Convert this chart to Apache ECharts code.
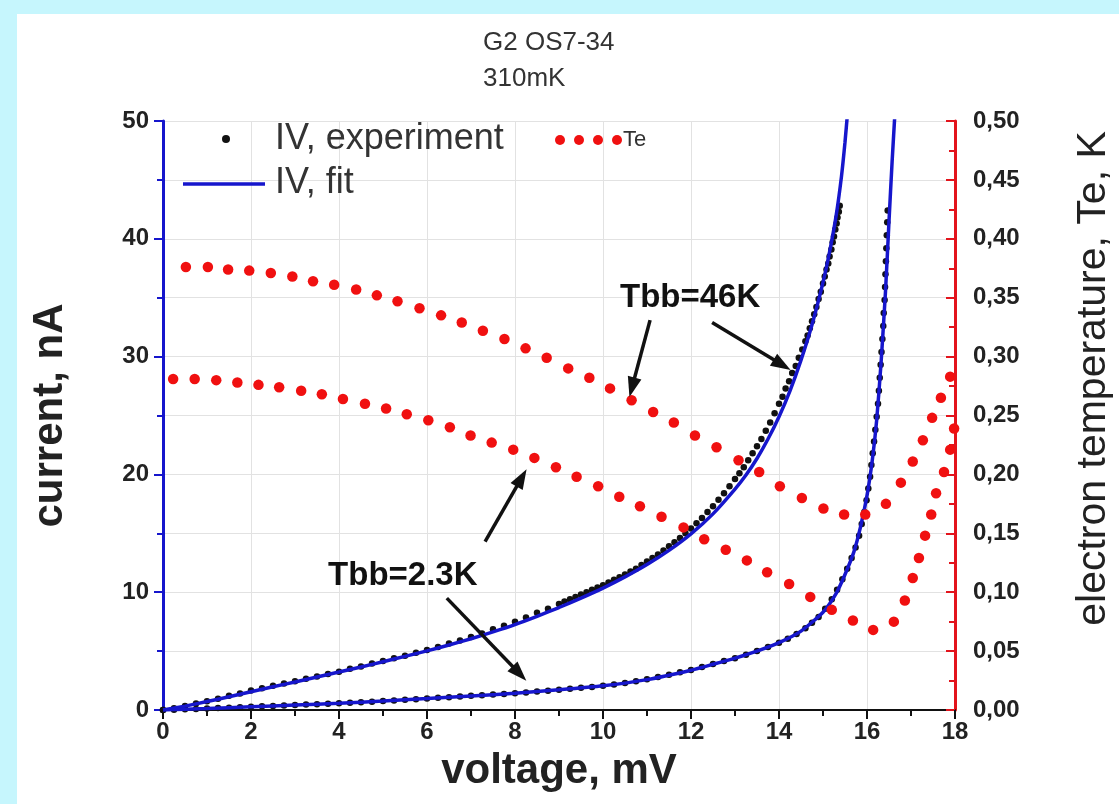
<!DOCTYPE html>
<html>
<head>
<meta charset="utf-8">
<script src="https://cdn.jsdelivr.net/npm/echarts@6/dist/echarts.min.js"></script>
<style>
  html, body { margin:0; padding:0; width:1119px; height:804px; background:#c6f6fd; overflow:hidden; }
  #panel { position:absolute; left:17px; top:14px; width:1102px; height:790px; background:#ffffff; }
  #chart { position:absolute; left:0; top:0; width:1119px; height:804px; }
</style>
</head>
<body>
<div id="panel"></div>
<div id="chart"></div>
<script>
// ---- data (voltage mV, value) ----
const te46K = [[0.52,0.376],[1.02,0.376],[1.48,0.374],[1.96,0.373],[2.45,0.371],[2.94,0.368],[3.41,0.364],[3.89,0.361],[4.39,0.357],[4.86,0.352],[5.33,0.347],[5.83,0.341],[6.32,0.335],[6.79,0.329],[7.27,0.322],[7.76,0.315],[8.24,0.307],[8.72,0.299],[9.21,0.290],[9.69,0.282],[10.16,0.273],[10.65,0.263],[11.14,0.253],[11.61,0.244],[12.09,0.233],[12.58,0.223],[13.08,0.212],[13.55,0.202],[14.02,0.190],[14.52,0.180],[15.01,0.171],[15.48,0.166],[15.96,0.166],[16.43,0.175],[16.77,0.193],[17.04,0.211],[17.27,0.229],[17.48,0.248],[17.68,0.265],[17.89,0.283]];
const te23K = [[0.23,0.281],[0.72,0.281],[1.21,0.280],[1.69,0.278],[2.17,0.276],[2.64,0.274],[3.14,0.271],[3.61,0.268],[4.09,0.264],[4.59,0.260],[5.07,0.256],[5.54,0.251],[6.03,0.246],[6.52,0.240],[6.99,0.233],[7.47,0.227],[7.96,0.221],[8.44,0.214],[8.93,0.206],[9.40,0.198],[9.89,0.190],[10.37,0.181],[10.84,0.173],[11.33,0.164],[11.83,0.155],[12.30,0.145],[12.79,0.136],[13.27,0.127],[13.73,0.117],[14.23,0.107],[14.71,0.096],[15.20,0.085],[15.68,0.076],[16.14,0.068],[16.61,0.075],[16.86,0.093],[17.04,0.112],[17.18,0.129],[17.32,0.148],[17.46,0.166],[17.57,0.184],[17.75,0.202],[17.89,0.221],[17.98,0.239]];
const iv46KExp = [[0,0],[0.25,0.15],[0.5,0.35],[0.75,0.55],[1,0.75],[1.25,0.95],[1.5,1.2],[1.75,1.4],[2,1.65],[2.25,1.85],[2.5,2.05],[2.75,2.25],[3,2.45],[3.25,2.65],[3.5,2.85],[3.75,3.05],[4,3.25],[4.25,3.5],[4.5,3.7],[4.75,3.95],[5,4.15],[5.25,4.4],[5.5,4.6],[5.75,4.85],[6,5.1],[6.25,5.35],[6.5,5.65],[6.75,5.9],[7,6.2],[7.25,6.5],[7.5,6.85],[7.75,7.15],[8,7.5],[8.25,7.85],[8.5,8.25],[8.75,8.6],[9,9.0],[9.125,9.2],[9.25,9.4],[9.375,9.6],[9.5,9.8],[9.625,10.0],[9.75,10.2],[9.875,10.4],[10,10.6],[10.125,10.82],[10.25,11.05],[10.375,11.27],[10.5,11.5],[10.625,11.75],[10.75,12.0],[10.875,12.3],[11,12.6],[11.125,12.9],[11.25,13.2],[11.375,13.55],[11.5,13.9],[11.625,14.25],[11.75,14.6],[11.875,15.0],[12,15.4],[12.125,15.85],[12.25,16.3],[12.375,16.8],[12.5,17.3],[12.625,17.85],[12.75,18.4],[12.875,19.0],[13,19.6],[13.1,20.1],[13.2,20.6],[13.3,21.2],[13.4,21.8],[13.5,22.4],[13.6,23.0],[13.7,23.7],[13.8,24.4],[13.9,25.2],[14,26.0],[14.08,26.6],[14.15,27.3],[14.23,27.9],[14.3,28.6],[14.38,29.2],[14.45,29.9],[14.53,30.6],[14.6,31.3],[14.65,31.8],[14.7,32.4],[14.75,33.0],[14.8,33.6],[14.85,34.2],[14.9,34.9],[14.95,35.5],[15,36.2],[15.04,36.8],[15.08,37.4],[15.12,37.9],[15.15,38.5],[15.19,39.1],[15.22,39.7],[15.25,40.2],[15.28,40.8],[15.31,41.3],[15.33,41.8],[15.36,42.3],[15.38,42.8]];
const iv46KFit = [[0,0],[0.5,0.33],[1,0.72],[1.5,1.12],[2,1.55],[2.5,1.97],[3,2.38],[3.5,2.8],[4,3.22],[4.5,3.65],[5,4.1],[5.5,4.55],[6,5.02],[6.5,5.52],[7,6.05],[7.5,6.63],[8,7.25],[8.5,7.95],[9,8.7],[9.5,9.5],[10,10.35],[10.5,11.3],[11,12.35],[11.5,13.55],[12,14.95],[12.5,16.65],[13,18.75],[13.25,19.95],[13.5,21.35],[13.75,23.0],[14,24.9],[14.25,27.1],[14.5,29.7],[14.75,32.7],[15,36.3],[15.15,38.9],[15.3,42.0],[15.42,45.3],[15.5,48.2],[15.56,50.8]];
const iv23KExp = [[0,0],[0.25,0.03],[0.5,0.06],[0.75,0.09],[1,0.12],[1.25,0.16],[1.5,0.2],[1.75,0.24],[2,0.28],[2.25,0.31],[2.5,0.35],[2.75,0.38],[3,0.42],[3.25,0.46],[3.5,0.49],[3.75,0.53],[4,0.57],[4.25,0.62],[4.5,0.66],[4.75,0.71],[5,0.76],[5.25,0.81],[5.5,0.87],[5.75,0.92],[6,0.98],[6.25,1.03],[6.5,1.09],[6.75,1.14],[7,1.2],[7.25,1.25],[7.5,1.31],[7.75,1.36],[8,1.42],[8.25,1.49],[8.5,1.56],[8.75,1.64],[9,1.72],[9.25,1.8],[9.5,1.88],[9.75,1.96],[10,2.05],[10.25,2.17],[10.5,2.3],[10.75,2.45],[11,2.6],[11.25,2.8],[11.5,3.0],[11.75,3.2],[12,3.4],[12.25,3.65],[12.5,3.9],[12.75,4.15],[13,4.4],[13.25,4.7],[13.5,5.0],[13.75,5.35],[14,5.7],[14.2,6.05],[14.4,6.45],[14.6,6.95],[14.75,7.4],[14.9,7.9],[15.05,8.6],[15.2,9.4],[15.32,10.2],[15.44,11.1],[15.55,12.0],[15.65,12.9],[15.74,13.8],[15.82,14.8],[15.88,15.8],[15.94,16.8],[15.99,17.8],[16.03,18.8],[16.07,19.8],[16.1,20.8],[16.13,21.8],[16.16,22.8],[16.19,23.8],[16.22,24.9],[16.25,26.0],[16.27,27.1],[16.29,28.2],[16.31,29.3],[16.33,30.4],[16.35,31.5],[16.37,32.6],[16.38,33.7],[16.4,34.8],[16.41,35.9],[16.42,37.0],[16.43,38.1],[16.44,39.2],[16.45,40.3],[16.46,41.4],[16.47,42.4]];
const iv23KFit = [[0,0],[1,0.12],[2,0.27],[3,0.42],[4,0.57],[5,0.76],[6,0.97],[7,1.19],[8,1.42],[9,1.71],[10,2.05],[11,2.58],[12,3.38],[12.5,3.88],[13,4.4],[13.5,5.0],[14,5.72],[14.5,6.7],[15,8.3],[15.3,9.9],[15.5,11.5],[15.7,13.4],[15.85,15.5],[16,18.2],[16.12,21.2],[16.22,24.6],[16.32,29.5],[16.42,35.5],[16.5,41.5],[16.57,46.5],[16.64,51]];

// annotation anchors in (mV, nA)
const labels = [
  { text: 'Tbb=46K', at: [11.98, 34.97] },
  { text: 'Tbb=2.3K', at: [5.45, 11.38] }
];
const arrows = [
  [[11.07, 33.1], [10.66, 27.4]],
  [[12.48, 32.9], [14.07, 29.3]],
  [[7.32, 14.3], [8.15, 19.7]],
  [[6.45, 9.5], [8.10, 3.1]]
];

const FONT = "'Liberation Sans', Arial, sans-serif";
const BLUE = '#1616cc';
const RED = '#e3141c';
const DOT_RED = '#f01010';
const TEXT = '#222222';

const chart = echarts.init(document.getElementById('chart'), null, { renderer: 'canvas' });

const option = {
  backgroundColor: 'transparent',
  animation: false,
  title: {
    text: 'G2 OS7-34\n310mK',
    left: 478, top: 20,
    textStyle: { fontFamily: FONT, fontSize: 26, fontWeight: 'normal', color: '#333', lineHeight: 36 }
  },
  grid: { left: 163, right: 164, top: 121, bottom: 94, outerBoundsMode: 'none', containLabel: false },
  xAxis: {
    type: 'value', min: 0, max: 18, interval: 2,
    axisLine: { lineStyle: { color: '#111', width: 2 } },
    axisTick: { show: true, length: 9, lineStyle: { color: '#111', width: 2 } },
    minorTick: { show: true, splitNumber: 2, length: 6, lineStyle: { color: '#111', width: 2 } },
    splitLine: { show: true, lineStyle: { color: '#e2e2e2', width: 1 } },
    axisLabel: { fontFamily: FONT, fontSize: 24, fontWeight: 'bold', color: TEXT, margin: 10 },
    name: 'voltage, mV', nameLocation: 'middle', nameGap: 40,
    nameTextStyle: { fontFamily: FONT, fontSize: 42, fontWeight: 'bold', color: TEXT }
  },
  yAxis: [
    {
      type: 'value', min: 0, max: 50, interval: 10, position: 'left',
      axisLine: { show: true, lineStyle: { color: BLUE, width: 3 } },
      axisTick: { show: true, length: 9, lineStyle: { color: BLUE, width: 2 } },
      minorTick: { show: true, splitNumber: 2, length: 6, lineStyle: { color: BLUE, width: 2 } },
      splitLine: { show: true, lineStyle: { color: '#e2e2e2', width: 1 } },
      minorSplitLine: { show: true, lineStyle: { color: '#e2e2e2', width: 1 } },
      axisLabel: { fontFamily: FONT, fontSize: 24, fontWeight: 'bold', color: TEXT, margin: 14 },
      name: 'current, nA', nameLocation: 'middle', nameGap: 92, nameRotate: 90,
      nameTextStyle: { fontFamily: FONT, fontSize: 42, fontWeight: 'bold', color: TEXT }
    },
    {
      type: 'value', min: 0, max: 0.5, interval: 0.05, position: 'right',
      axisLine: { show: true, lineStyle: { color: RED, width: 3 } },
      axisTick: { show: true, inside: true, length: 9, lineStyle: { color: RED, width: 2 } },
      minorTick: { show: true, splitNumber: 2, length: 6, lineStyle: { color: RED, width: 2 } },
      splitLine: { show: false },
      axisLabel: { fontFamily: FONT, fontSize: 24, fontWeight: 'bold', color: TEXT, margin: 18,
        formatter: v => v.toFixed(2).replace('.', ',') },
      name: 'electron temperature, Te, K', nameLocation: 'middle', nameGap: 118, nameRotate: 90,
      nameTextStyle: { fontFamily: FONT, fontSize: 41, fontWeight: 'normal', color: TEXT, padding: [0, 0, 0, 74] }
    }
  ],
  series: [
    { name: 'IV, experiment 46K', type: 'scatter', yAxisIndex: 0, data: iv46KExp, symbolSize: 6.5,
      itemStyle: { color: '#111', opacity: 1 }, z: 2 },
    { name: 'IV, experiment 2.3K', type: 'scatter', yAxisIndex: 0, data: iv23KExp, symbolSize: 6.5,
      itemStyle: { color: '#111', opacity: 1 }, z: 2 },
    { name: 'IV, fit 46K', type: 'line', yAxisIndex: 0, data: iv46KFit, showSymbol: false, smooth: 0.2,
      lineStyle: { color: BLUE, width: 3.5 }, z: 3,
      markLine: {
        silent: true, symbol: ['none', 'triangle'], symbolSize: [14, 20],
        lineStyle: { color: '#111', width: 3.5, type: 'solid' }, label: { show: false },
        data: arrows.map(a => [{ coord: a[0] }, { coord: a[1] }])
      },
      markPoint: {
        silent: true, symbol: 'rect', symbolSize: 1, itemStyle: { color: 'rgba(0,0,0,0)' },
        label: { show: true, position: 'inside', fontFamily: FONT, fontSize: 33, fontWeight: 'bold', color: '#111',
          formatter: p => p.name },
        data: labels.map(l => ({ name: l.text, coord: l.at }))
      }
    },
    { name: 'IV, fit 2.3K', type: 'line', yAxisIndex: 0, data: iv23KFit, showSymbol: false, smooth: 0.2,
      lineStyle: { color: BLUE, width: 3.5 }, z: 3 },
    { name: 'Te 46K', type: 'scatter', yAxisIndex: 1, data: te46K, symbolSize: 10.5,
      itemStyle: { color: DOT_RED, opacity: 1 }, z: 4 },
    { name: 'Te 2.3K', type: 'scatter', yAxisIndex: 1, data: te23K, symbolSize: 10.5,
      itemStyle: { color: DOT_RED, opacity: 1 }, z: 4 }
  ],
  graphic: [
    { type: 'circle', shape: { cx: 226, cy: 139, r: 4 }, style: { fill: '#111' }, z: 10 },
    { type: 'text', left: 275, top: 121, style: { text: 'IV, experiment', font: "36px 'Liberation Sans', Arial", fill: '#333' }, z: 10 },
    { type: 'line', shape: { x1: 183, y1: 184, x2: 265, y2: 184 }, style: { stroke: BLUE, lineWidth: 3.5 }, z: 10 },
    { type: 'text', left: 275, top: 165, style: { text: 'IV, fit', font: "36px 'Liberation Sans', Arial", fill: '#333' }, z: 10 },
    { type: 'circle', shape: { cx: 560, cy: 140, r: 5 }, style: { fill: DOT_RED }, z: 10 },
    { type: 'circle', shape: { cx: 579, cy: 140, r: 5 }, style: { fill: DOT_RED }, z: 10 },
    { type: 'circle', shape: { cx: 598, cy: 140, r: 5 }, style: { fill: DOT_RED }, z: 10 },
    { type: 'circle', shape: { cx: 617, cy: 140, r: 5 }, style: { fill: DOT_RED }, z: 10 },
    { type: 'text', left: 623, top: 129, style: { text: 'Te', font: "22px 'Liberation Sans', Arial", fill: '#333' }, z: 10 }
  ]
};
chart.setOption(option);
</script>
</body>
</html>
